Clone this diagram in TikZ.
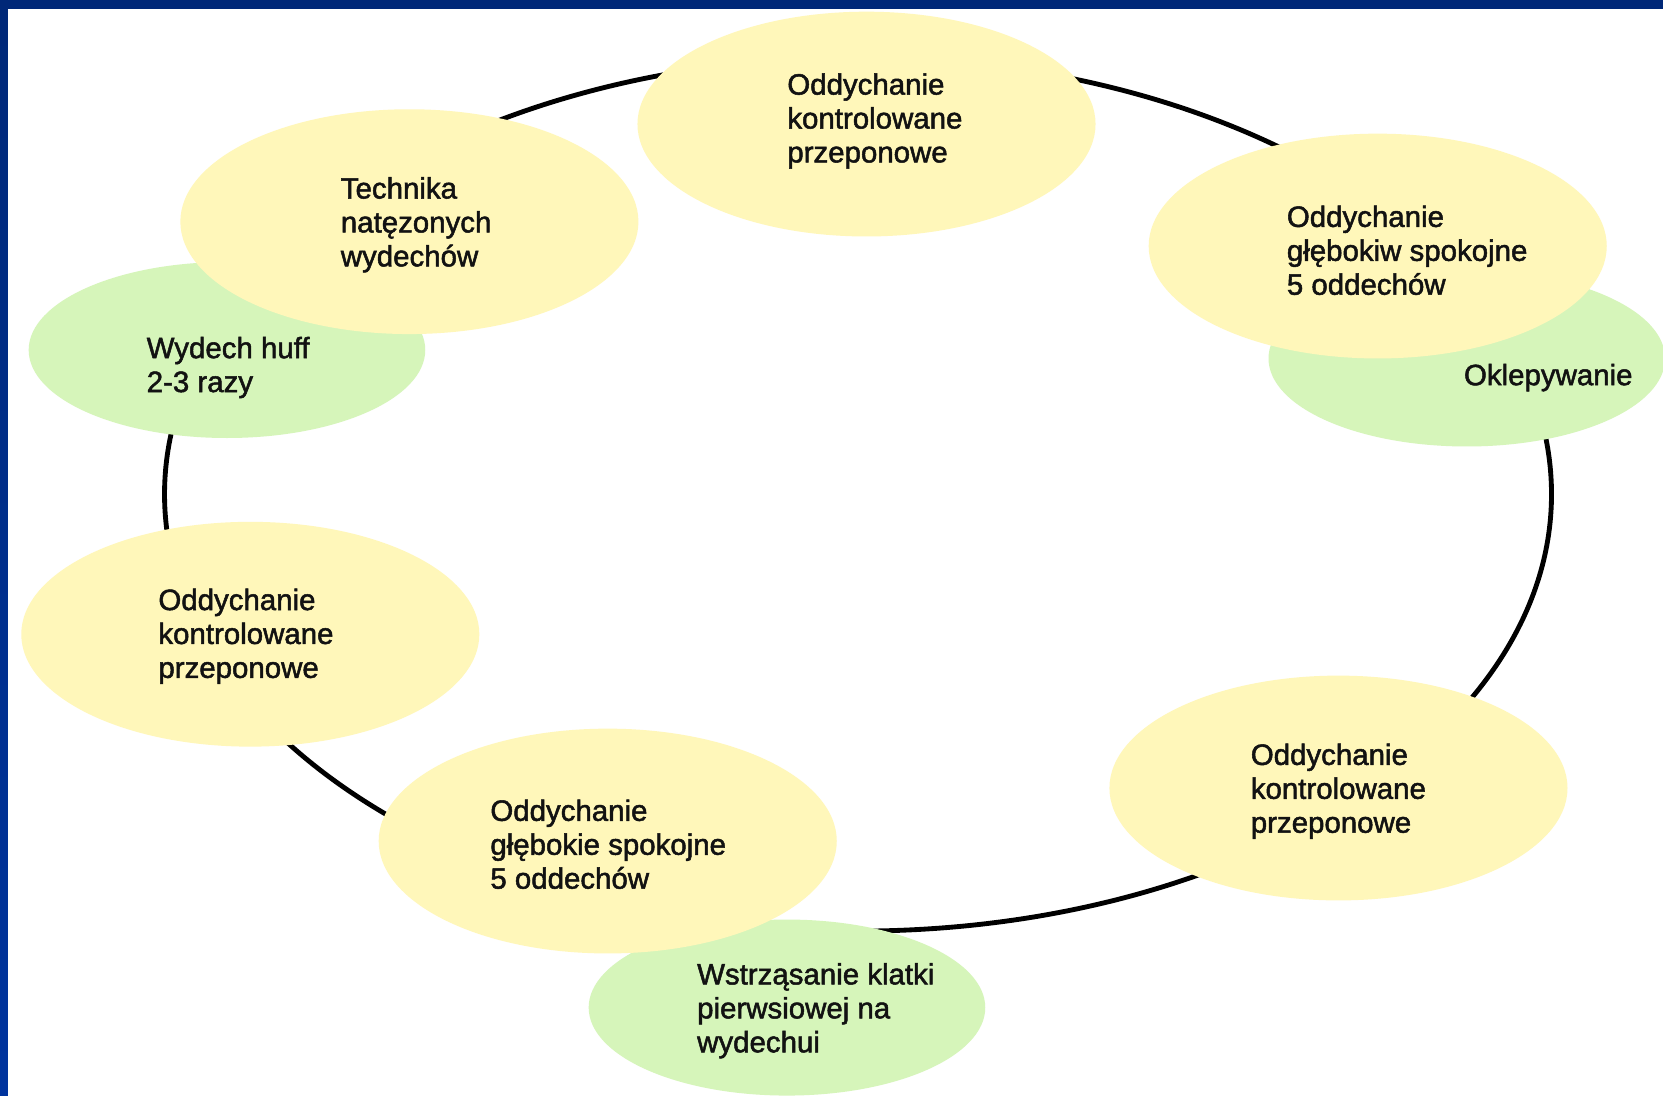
\documentclass[tikz,border=0pt]{standalone}
\usepackage{fontspec}
\setmainfont{Liberation Sans}
\newfontfamily\lblfont[RawFeature={embolden=1.7}]{Liberation Sans}
\usetikzlibrary{shapes.geometric}
\definecolor{navy}{RGB}{0,40,120}
\definecolor{navyb}{RGB}{0,52,158}
\definecolor{ylw}{RGB}{255,247,186}
\definecolor{grn}{RGB}{214,245,186}
\definecolor{ink}{RGB}{18,18,18}
\begin{document}
\begin{tikzpicture}[x=0.02cm,y=-0.02cm,
  yel/.style={ellipse, fill=ylw, inner sep=0, outer sep=0, minimum width=8.64cm, minimum height=4.24cm},
  grnel/.style={ellipse, fill=grn, inner sep=0, outer sep=0, minimum width=7.48cm, minimum height=3.32cm},
  lbl/.style={anchor=west, inner sep=0, align=left, text=ink, font=\lblfont\fontsize{15.8pt}{18.2pt}\selectfont},
  ringst/.style={ellipse, draw=black, line width=2.6pt, inner sep=0, minimum width=26.16cm, minimum height=16.48cm}]
\useasboundingbox (0,0) rectangle (1568,1033);
\clip (0,0) rectangle (1568,1033);
\fill[white] (0,0) rectangle (1568,1033);
\shade[top color=navy, bottom color=navyb] (0,0) rectangle (7.5,1033);
\fill[navy] (0,0) rectangle (1568,8.5);
% ring
\node[ringst] (ring) at (809,466) {};
% green ellipses
\node[grnel] (g1) at (214,330) {};
\node[grnel] (g2) at (1383,338) {};
\node[grnel] (g3) at (742,950) {};
% yellow ellipses
\node[yel] (y1) at (817,117) {};
\node[yel] (y2) at (386,209) {};
\node[yel] (y3) at (1299,232) {};
\node[yel] (y4) at (236,598) {};
\node[yel] (y5) at (573,793) {};
\node[yel] (y6) at (1262,743) {};
% labels
\node[lbl] (t1) at (742,114) {Oddychanie\\kontrolowane\\przeponowe};
\node[lbl] (t2) at (321,212) {Technika\\natęzonych\\wydechów};
\node[lbl] (t3) at (1213,236) {Oddychanie\\głębokiw spokojne\\5 oddechów};
\node[lbl] (t4) at (149,600) {Oddychanie\\kontrolowane\\przeponowe};
\node[lbl] (t5) at (462,796) {Oddychanie\\głębokie spokojne\\5 oddechów};
\node[lbl] (t6) at (1179,746) {Oddychanie\\kontrolowane\\przeponowe};
\node[lbl] (t7) at (138,346.5) {Wydech huff\\2-3 razy};
\node[lbl] (t8) at (1380,356) {Oklepywanie};
\node[lbl] (t9) at (657,953) {Wstrząsanie klatki\\pierwsiowej na\\wydechui};
\end{tikzpicture}
\end{document}
